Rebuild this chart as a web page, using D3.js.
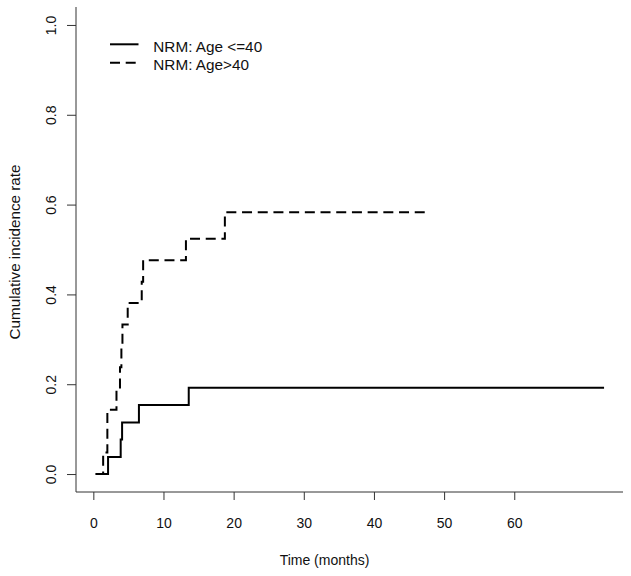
<!DOCTYPE html>
<html>
<head>
<meta charset="utf-8">
<script src="https://cdn.jsdelivr.net/npm/d3@7"></script>
<style>
  html, body { margin: 0; padding: 0; background: #fff; }
  svg { display: block; font-family: "Liberation Sans", Arial, Helvetica, sans-serif; }
</style>
</head>
<body>
<svg id="chart" width="631" height="576"></svg>
<script>
// ---- data ----
const seriesNames = ["NRM: Age <=40", "NRM: Age>40"];
const youngTimes  = [0.33, 2.1, 3.9, 4.1, 6.5, 13.6, 72.8];
const youngValues = [0, 0.038, 0.077, 0.115, 0.154, 0.192, 0.192];
const oldTimes    = [0.33, 1.4, 2.0, 3.3, 3.8, 4.0, 4.15, 4.9, 6.9, 7.1, 13.2, 18.75, 47.5];
const oldValues   = [0, 0.048, 0.143, 0.19, 0.238, 0.286, 0.333, 0.381, 0.428, 0.476, 0.524, 0.583, 0.583];
const xTicks = [0, 10, 20, 30, 40, 50, 60];
const yTicks = [0, 0.2, 0.4, 0.6, 0.8, 1.0];
const xTitle = "Time (months)";
const yTitle = "Cumulative incidence rate";

(function () {
const svg = d3.select("#chart");
const pLeft = 76, pRight = 623, pTop = 7, pBottom = 492;
const x = d3.scaleLinear().domain([-2.47, 75.5]).range([pLeft, pRight]);
const y = d3.scaleLinear().domain([-0.04, 1.04]).range([pBottom, pTop]);
const axisColor = "#333";

// box (L shape)
svg.append("line").attr("x1", pLeft).attr("x2", pRight).attr("y1", pBottom).attr("y2", pBottom)
  .attr("stroke", axisColor).attr("stroke-width", 1);
svg.append("line").attr("x1", pLeft).attr("x2", pLeft).attr("y1", pTop).attr("y2", pBottom)
  .attr("stroke", axisColor).attr("stroke-width", 1);

// x axis
const gx = svg.append("g").attr("transform", `translate(0,${pBottom})`)
  .call(d3.axisBottom(x).tickValues(xTicks).tickSize(8).tickPadding(18.4).tickFormat(d3.format("d")));
gx.select(".domain").remove();
gx.selectAll(".tick line").attr("stroke", axisColor);
gx.selectAll(".tick text").attr("font-size", 14).attr("fill", "#111")
  .attr("font-family", "Liberation Sans, Arial, sans-serif");

// y axis
const gy = svg.append("g").attr("transform", `translate(${pLeft},0)`)
  .call(d3.axisLeft(y).tickValues(yTicks).tickSize(9).tickFormat(d3.format(".1f")));
gy.select(".domain").remove();
gy.selectAll(".tick line").attr("stroke", axisColor);
gy.selectAll(".tick text")
  .attr("font-size", 14).attr("fill", "#111")
  .attr("font-family", "Liberation Sans, Arial, sans-serif")
  .attr("transform", "rotate(-90)")
  .attr("x", 0).attr("y", -20.5).attr("dy", 0)
  .attr("text-anchor", "middle");

// titles
svg.append("text").attr("x", 324.5).attr("y", 564.5).attr("text-anchor", "middle")
  .attr("font-size", 14).attr("fill", "#111").text(xTitle);
svg.append("text").attr("transform", `translate(20,252) rotate(-90)`)
  .attr("text-anchor", "middle").attr("font-size", 15.2).attr("fill", "#111").text(yTitle);

// step lines
const line = d3.line().x(d => x(d[0])).y(d => y(d[1])).curve(d3.curveStepAfter);
const series = [
  { pts: d3.zip(youngTimes, youngValues), dash: null },
  { pts: d3.zip(oldTimes, oldValues), dash: "10,5.7" }
];
series.forEach(s => {
  svg.append("path").attr("d", line(s.pts)).attr("fill", "none")
    .attr("stroke", "#000").attr("stroke-width", 2)
    .attr("stroke-dasharray", s.dash);
});

// legend
const leg = svg.append("g");
seriesNames.forEach((name, i) => {
  const ly = 44.3 + i * 18.4;
  leg.append("line").attr("x1", 110).attr("x2", 138.5).attr("y1", ly).attr("y2", ly)
    .attr("stroke", "#000").attr("stroke-width", 2)
    .attr("stroke-dasharray", series[i].dash);
  leg.append("text").attr("x", 153.3).attr("y", ly + 7.6).attr("font-size", 15.3)
    .attr("fill", "#111").text(name);
});
})();
</script>
</body>
</html>
